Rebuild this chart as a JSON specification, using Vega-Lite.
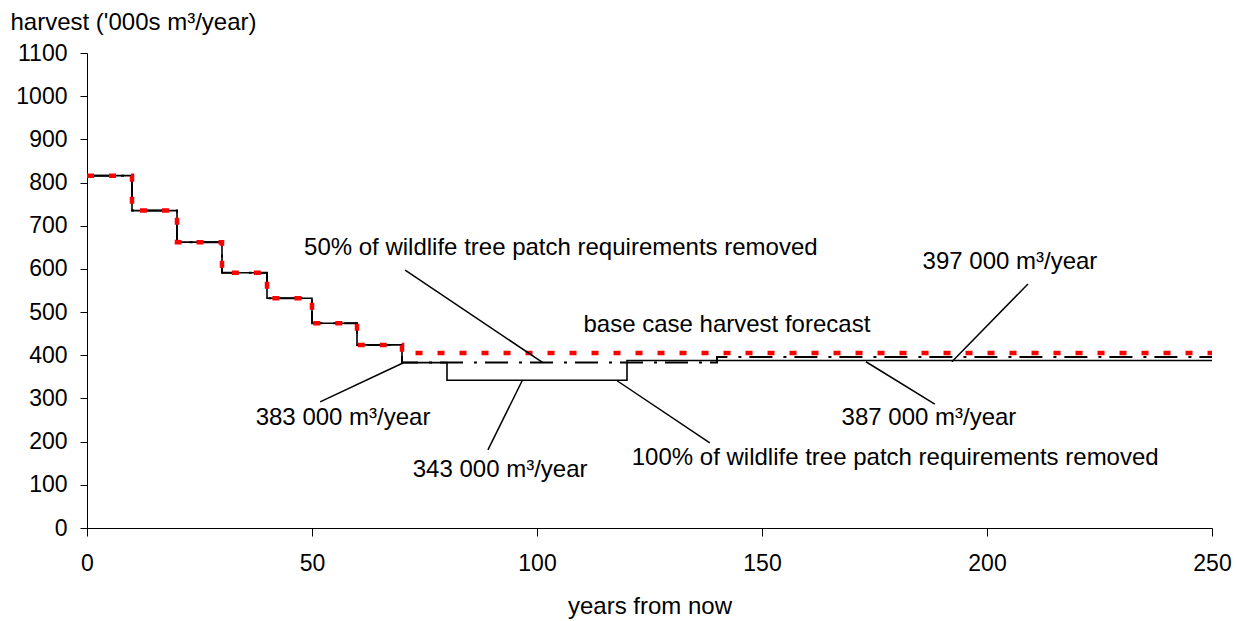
{
  "$schema": "https://vega.github.io/schema/vega-lite/v6.json",
  "width": 1125,
  "height": 475,
  "autosize": "none",
  "padding": {"left": 87, "top": 53, "right": 26, "bottom": 93},
  "background": "white",
  "config": {
    "view": {"stroke": null},
    "font": "Liberation Sans",
    "axis": {"grid": false, "domainColor": "black", "tickColor": "black", "labelColor": "black", "titleColor": "black", "labelFont": "Liberation Sans", "titleFont": "Liberation Sans", "labelFontSize": 23, "titleFontSize": 24, "titleFontWeight": "normal"}
  },
  "datasets": {
    "series": [
      {"scenario": "base", "year": 0, "harvest": 816},
      {"scenario": "base", "year": 10, "harvest": 735},
      {"scenario": "base", "year": 20, "harvest": 662},
      {"scenario": "base", "year": 30, "harvest": 591},
      {"scenario": "base", "year": 40, "harvest": 532},
      {"scenario": "base", "year": 50, "harvest": 474},
      {"scenario": "base", "year": 60, "harvest": 424},
      {"scenario": "base", "year": 70, "harvest": 405},
      {"scenario": "base", "year": 250, "harvest": 405},
      {"scenario": "p50", "year": 0, "harvest": 816},
      {"scenario": "p50", "year": 10, "harvest": 735},
      {"scenario": "p50", "year": 20, "harvest": 662},
      {"scenario": "p50", "year": 30, "harvest": 591},
      {"scenario": "p50", "year": 40, "harvest": 532},
      {"scenario": "p50", "year": 50, "harvest": 474},
      {"scenario": "p50", "year": 60, "harvest": 424},
      {"scenario": "p50", "year": 70, "harvest": 383},
      {"scenario": "p50", "year": 140, "harvest": 396},
      {"scenario": "p50", "year": 250, "harvest": 396},
      {"scenario": "p100", "year": 0, "harvest": 816},
      {"scenario": "p100", "year": 10, "harvest": 735},
      {"scenario": "p100", "year": 20, "harvest": 662},
      {"scenario": "p100", "year": 30, "harvest": 591},
      {"scenario": "p100", "year": 40, "harvest": 532},
      {"scenario": "p100", "year": 50, "harvest": 474},
      {"scenario": "p100", "year": 60, "harvest": 424},
      {"scenario": "p100", "year": 70, "harvest": 383},
      {"scenario": "p100", "year": 80, "harvest": 342},
      {"scenario": "p100", "year": 120, "harvest": 388},
      {"scenario": "p100", "year": 250, "harvest": 388}
    ],
    "labels": [
      {"label": "50% of wildlife tree patch requirements removed", "year": 105.3, "harvest": 648},
      {"label": "base case harvest forecast", "year": 142.2, "harvest": 470},
      {"label": "397 000 m³/year", "year": 205.1, "harvest": 616},
      {"label": "387 000 m³/year", "year": 187.1, "harvest": 255},
      {"label": "383 000 m³/year", "year": 56.9, "harvest": 255},
      {"label": "343 000 m³/year", "year": 91.8, "harvest": 134},
      {"label": "100% of wildlife tree patch requirements removed", "year": 179.6, "harvest": 162}
    ],
    "leaders": [
      {"year": 70.7, "harvest": 597, "year2": 101.3, "harvest2": 383},
      {"year": 209.1, "harvest": 565, "year2": 192.2, "harvest2": 385},
      {"year": 173.1, "harvest": 385, "year2": 188.4, "harvest2": 287},
      {"year": 70.2, "harvest": 382, "year2": 51.8, "harvest2": 292},
      {"year": 96.7, "harvest": 341, "year2": 89.1, "harvest2": 181},
      {"year": 117.8, "harvest": 341, "year2": 138.4, "harvest2": 197}
    ]
  },
  "layer": [
    {
      "data": {"name": "series"},
      "transform": [{"filter": "datum.scenario === 'p100'"}],
      "mark": {"type": "line", "interpolate": "step-after", "color": "black", "strokeWidth": 1.6},
      "encoding": {
        "x": {"field": "year", "type": "quantitative", "scale": {"domain": [0, 250], "nice": false},
          "axis": {"values": [0, 50, 100, 150, 200, 250], "format": "d", "title": "years from now", "tickSize": 8, "labelPadding": 16, "titleY": 85, "titleBaseline": "alphabetic", "labelFlush": false}},
        "y": {"field": "harvest", "type": "quantitative", "scale": {"domain": [0, 1100], "nice": false},
          "axis": {"values": [0, 100, 200, 300, 400, 500, 600, 700, 800, 900, 1000, 1100], "format": "d", "title": "harvest ('000s m³/year)", "titleAngle": 0, "titleAlign": "left", "titleBaseline": "alphabetic", "titleX": -77, "titleY": -24, "tickSize": 7, "labelPadding": 13, "labelFlush": false}}
      }
    },
    {
      "data": {"name": "series"},
      "transform": [{"filter": "datum.scenario === 'p50'"}],
      "mark": {"type": "line", "interpolate": "step-after", "color": "black", "strokeWidth": 2, "strokeDash": [23, 11, 3, 8]},
      "encoding": {
        "x": {"field": "year", "type": "quantitative"},
        "y": {"field": "harvest", "type": "quantitative"}
      }
    },
    {
      "data": {"name": "series"},
      "transform": [{"filter": "datum.scenario === 'base'"}],
      "mark": {"type": "line", "interpolate": "step-after", "color": "#FF0000", "strokeWidth": 4.5, "strokeDash": [7, 15]},
      "encoding": {
        "x": {"field": "year", "type": "quantitative"},
        "y": {"field": "harvest", "type": "quantitative"}
      }
    },
    {
      "data": {"name": "leaders"},
      "mark": {"type": "rule", "color": "black", "strokeWidth": 1.5},
      "encoding": {
        "x": {"field": "year", "type": "quantitative"},
        "y": {"field": "harvest", "type": "quantitative"},
        "x2": {"field": "year2"},
        "y2": {"field": "harvest2"}
      }
    },
    {
      "data": {"name": "labels"},
      "mark": {"type": "text", "align": "center", "baseline": "middle", "fontSize": 24, "font": "Liberation Sans", "color": "black"},
      "encoding": {
        "x": {"field": "year", "type": "quantitative"},
        "y": {"field": "harvest", "type": "quantitative"},
        "text": {"field": "label"}
      }
    }
  ]
}
